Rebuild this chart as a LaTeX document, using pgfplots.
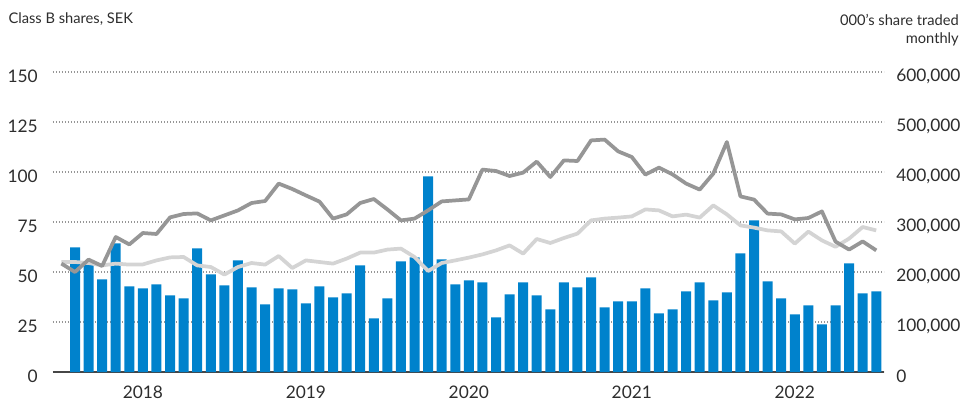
\documentclass[border=0pt]{standalone}
\usepackage{pgfplots}
\pgfplotsset{compat=1.18}
\usepackage{fontspec}
\setmainfont{Lato}
\definecolor{barblue}{RGB}{0,130,204}
\definecolor{darkline}{RGB}{150,150,150}
\definecolor{lightline}{RGB}{212,212,212}
\definecolor{textgray}{RGB}{45,45,45}
\definecolor{gridgray}{RGB}{150,150,150}
\definecolor{zeroline}{RGB}{70,70,70}
\begin{document}
\begin{tikzpicture}
\useasboundingbox (-39.75pt,-24.75pt) rectangle (681pt,279pt);
\pgfplotsset{
  common/.style={
    at={(0,0)}, anchor=south west,
    scale only axis, width=623.25pt, height=225pt,
    xmin=-1.62, xmax=59.57, ymin=0,
    major tick length=0pt,
    scaled y ticks=false, scaled x ticks=false,
    tick label style={font=\fontsize{13}{15}\selectfont, text=textgray},
    clip=false,
  }
}
% bars, right axis
\begin{axis}[common,
  ymax=600000,
  axis y line*=right, axis x line*=bottom,
  x axis line style={line width=2.2pt, color=zeroline, -},
  y axis line style={draw=none},
  ytick={0,100000,200000,300000,400000,500000,600000},
  yticklabels={0,{100,000},{200,000},{300,000},{400,000},{500,000},{600,000}},
  yticklabel style={anchor=west, inner sep=0pt, xshift=9pt, yshift=-3.5pt},
  xtick={5,17,29,41,53},
  xticklabels={2018,2019,2020,2021,2022},
  xticklabel style={anchor=north, inner sep=0pt, yshift=-10pt},
  ymajorgrids,
  grid style={gridgray, line width=0.8pt, dash pattern=on 0.75pt off 1.5pt},
  ybar, bar width=7.5pt,
]
\addplot[fill=barblue, draw=none] coordinates {
(0,249200) (1,214800) (2,185200) (3,257200) (4,171200) (5,167200) (6,175200) (7,153200) (8,147200) (9,247200)
(10,195200) (11,173200) (12,223200) (13,169200) (14,135200) (15,167200) (16,165200) (17,137200) (18,171200) (19,149200)
(20,157200) (21,213200) (22,107200) (23,147200) (24,221200) (25,229200) (26,391200) (27,225200) (28,175200) (29,183200)
(30,179200) (31,109200) (32,155200) (33,179200) (34,153200) (35,125200) (36,179200) (37,169200) (38,189200) (39,129200)
(40,141200) (41,141200) (42,167200) (43,117200) (44,125200) (45,161200) (46,179200) (47,143200) (48,159200) (49,237200)
(50,303200) (51,181200) (52,147200) (53,115200) (54,133200) (55,95200) (56,133200) (57,217200) (58,157200) (59,161200)
};
\end{axis}
% lines, left axis
\begin{axis}[common,
  ymax=150,
  axis y line*=left, axis x line=none,
  y axis line style={draw=none},
  ytick={0,25,50,75,100,125,150},
  yticklabels={0,25,50,75,100,125,150},
  yticklabel style={anchor=east, inner sep=0pt, xshift=-11.25pt, yshift=-3.5pt},
  xtick=\empty,
]
\addplot[lightline, line width=2.8pt, line join=round] coordinates {
(-1,55) (0,55) (1,54.5) (2,53.3) (3,54.2) (4,53.7) (5,53.8) (6,55.8) (7,57.3) (8,57.5) (9,53.3)
(10,52.5) (11,48.7) (12,52.5) (13,54.5) (14,53.7) (15,58) (16,52) (17,55.8) (18,55) (19,54.2)
(20,56.7) (21,59.7) (22,59.7) (23,61.2) (24,61.7) (25,57.5) (26,50.5) (27,54.5) (28,55.8) (29,57.2)
(30,58.8) (31,60.8) (32,63.3) (33,59.2) (34,66.5) (35,64.5) (36,67) (37,69.2) (38,75.8) (39,76.7)
(40,77.2) (41,77.8) (42,81.3) (43,80.8) (44,77.8) (45,78.7) (46,77.2) (47,83.3) (48,78.8) (49,73.3)
(50,72.2) (51,70.8) (52,70.3) (53,64.2) (54,70.2) (55,65.8) (56,62.6) (57,66.7) (58,72.5) (59,70.8)
};
\addplot[darkline, line width=2.8pt, line join=round] coordinates {
(-1,54.2) (0,50) (1,56.2) (2,53) (3,67.5) (4,63.8) (5,69.5) (6,69) (7,77.3) (8,79) (9,79.3)
(10,75.8) (11,78.3) (12,80.8) (13,84.5) (14,85.5) (15,94.2) (16,91.5) (17,88.3) (18,85.2) (19,76.7)
(20,78.8) (21,84.5) (22,86.5) (23,81.3) (24,75.8) (25,76.7) (26,80.8) (27,85.3) (28,85.8) (29,86.3)
(30,101.2) (31,100.5) (32,98) (33,99.7) (34,105.2) (35,97.5) (36,105.8) (37,105.5) (38,115.8) (39,116.2)
(40,110.3) (41,107.5) (42,98.7) (43,102.2) (44,98.8) (45,94.2) (46,91.2) (47,99.2) (48,115) (49,87.8)
(50,86.2) (51,79.2) (52,78.8) (53,76.3) (54,77) (55,80.3) (56,65.2) (57,61.2) (58,65.3) (59,60.8)
};
\end{axis}
\node[anchor=base west, inner sep=0pt, font=\fontsize{11}{13}\selectfont, text=textgray] at (-33.5pt,261.5pt) {Class B shares, SEK};
\node[anchor=base east, inner sep=0pt, font=\fontsize{11}{13}\selectfont, text=textgray] at (679.5pt,260.25pt) {000’s share traded};
\node[anchor=base east, inner sep=0pt, font=\fontsize{11}{13}\selectfont, text=textgray] at (679.5pt,246.75pt) {monthly};
\end{tikzpicture}
\end{document}
